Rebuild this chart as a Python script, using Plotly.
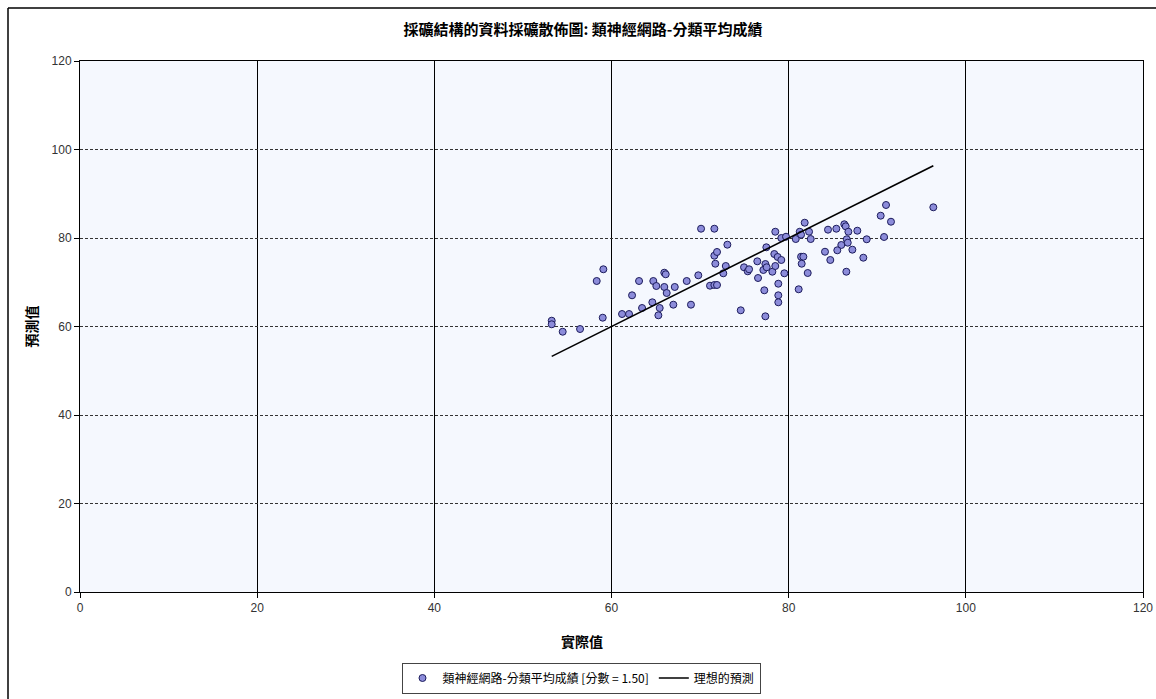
import plotly.graph_objects as go

actual = [59.08, 58.33, 53.25, 53.25, 54.49, 56.45, 59.01, 61.19, 61.98, 62.32,
          63.11, 63.45, 64.72, 65.06, 64.61, 65.44, 65.29, 65.96, 66.12, 65.96,
          66.23, 67.14, 66.98, 70.11, 71.61, 68.49, 68.97, 69.80, 71.12, 71.61,
          71.91, 71.61, 71.91, 71.72, 72.90, 72.62, 73.08, 74.59, 74.96, 75.38,
          75.53, 76.46, 76.54, 77.14, 77.37, 77.52, 77.25, 77.37, 77.48, 78.16,
          78.38, 78.49, 78.76, 79.17, 78.49, 78.83, 78.83, 78.83, 79.17, 79.70,
          79.51, 80.80, 81.25, 81.40, 81.81, 82.30, 82.49, 81.40, 81.66, 81.47,
          82.15, 81.13, 90.99, 96.33, 90.39, 91.55, 84.44, 85.38, 86.28, 86.44,
          86.74, 87.75, 86.56, 86.67, 88.81, 90.77, 85.94, 85.49, 84.10, 87.19,
          84.70, 88.43, 86.51]
predicted = [72.93, 70.28, 61.31, 60.50, 58.82, 59.43, 61.99, 62.82, 62.82, 67.05,
             70.28, 64.18, 70.28, 69.15, 65.47, 64.18, 62.53, 72.16, 71.80, 68.93,
             67.57, 68.93, 64.93, 82.10, 82.10, 70.28, 64.93, 71.57, 69.22, 69.38,
             69.38, 76.00, 76.84, 74.19, 73.67, 72.02, 78.49, 63.66, 73.38, 72.47,
             72.93, 74.73, 70.96, 72.77, 74.12, 73.38, 68.18, 62.30, 77.90, 72.38,
             76.38, 73.67, 75.71, 75.03, 81.42, 69.67, 67.05, 65.47, 80.00, 80.29,
             72.02, 79.77, 81.42, 80.75, 83.46, 81.42, 79.77, 75.77, 75.77, 74.19,
             72.09, 68.41, 87.46, 86.94, 85.04, 83.68, 81.88, 82.10, 83.10, 82.64,
             81.42, 81.65, 79.71, 78.94, 79.71, 80.23, 78.42, 77.22, 76.90, 77.36,
             75.03, 75.55, 72.38]

# Ideal prediction line (y = x) across the range of actual values
ideal_x = [53.25, 96.33]
ideal_y = [53.25, 96.33]

tick_vals = [0, 20, 40, 60, 80, 100, 120]
tick_text = ["0", "20", "40", "60", "80", "100", "120"]

title_text = "採礦結構的資料採礦散佈圖: 類神經網路-分類平均成績"
series_name = "類神經網路-分類平均成績 [分數 = 1.50]"
ideal_name = "理想的預測"
x_title = "實際值"
y_title = "預測值"

cjk = "Noto Sans CJK TC, Liberation Sans, sans-serif"

fig = go.Figure()
fig.add_trace(go.Scatter(
    x=actual, y=predicted, mode="markers", name=series_name,
    marker=dict(size=7, color="#8C8CDA", line=dict(color="#1C1C5C", width=1)),
))
fig.add_trace(go.Scatter(
    x=ideal_x, y=ideal_y, mode="lines", name=ideal_name,
    line=dict(color="black", width=1.6),
))

fig.update_layout(
    width=1156, height=699,
    margin=dict(l=80, r=13, t=61, b=107, autoexpand=False),
    paper_bgcolor="white",
    plot_bgcolor="#F5F8FE",
    font=dict(family=cjk, size=12, color="#222"),
    title=dict(text="<b>" + title_text + "</b>", x=583 / 1156, xanchor="center",
               y=1 - 30 / 699, yanchor="middle", font=dict(size=15, color="black")),
    showlegend=True,
    legend=dict(orientation="h", x=(581 - 80) / 1063, xanchor="center", yref="container",
                y=1 - 678 / 699, yanchor="middle",
                bordercolor="#444", borderwidth=1, bgcolor="white",
                font=dict(size=12, color="black"), itemwidth=30),
)

fig.update_xaxes(
    range=[0, 120], tickvals=tick_vals, ticktext=tick_text,
    showline=True, linecolor="black", linewidth=1, mirror=True,
    ticks="outside", ticklen=5, tickcolor="black",
    showgrid=True, gridcolor="black", gridwidth=1,
    zeroline=False, automargin=False,
    tickfont=dict(family="Liberation Sans, sans-serif", size=12, color="#333"),
)
fig.update_yaxes(
    range=[0, 120], tickvals=tick_vals, ticktext=tick_text,
    showline=True, linecolor="black", linewidth=1, mirror=True,
    ticks="outside", ticklen=5, tickcolor="black",
    showgrid=True, gridcolor="#333", gridwidth=1, griddash="3px,2px",
    zeroline=False, automargin=False,
    tickfont=dict(family="Liberation Sans, sans-serif", size=12, color="#333"),
    title=dict(text="<b>" + y_title + "</b>", standoff=10,
               font=dict(size=14, color="black")),
)

# X axis title centred on the chart as in the original
fig.add_annotation(text="<b>" + x_title + "</b>", xref="paper", yref="paper",
                   x=(582 - 80) / 1063, y=(592 - 641) / 531,
                   xanchor="center", yanchor="middle", showarrow=False,
                   font=dict(size=14, color="black"))

# Outer frame (left and top edges visible in the picture)
fx0 = (8 - 80) / 1063
fy1 = (592 - 8) / 531
fig.add_shape(type="line", xref="paper", yref="paper",
              x0=fx0, x1=fx0, y0=(592 - 720) / 531, y1=fy1,
              line=dict(color="black", width=1.5), layer="below")
fig.add_shape(type="line", xref="paper", yref="paper",
              x0=fx0, x1=(1180 - 80) / 1063, y0=fy1, y1=fy1,
              line=dict(color="black", width=1.5), layer="below")

fig.write_html("out.html", config={"displayModeBar": False},
               post_script="document.body.style.margin='0';document.body.style.padding='0';")
